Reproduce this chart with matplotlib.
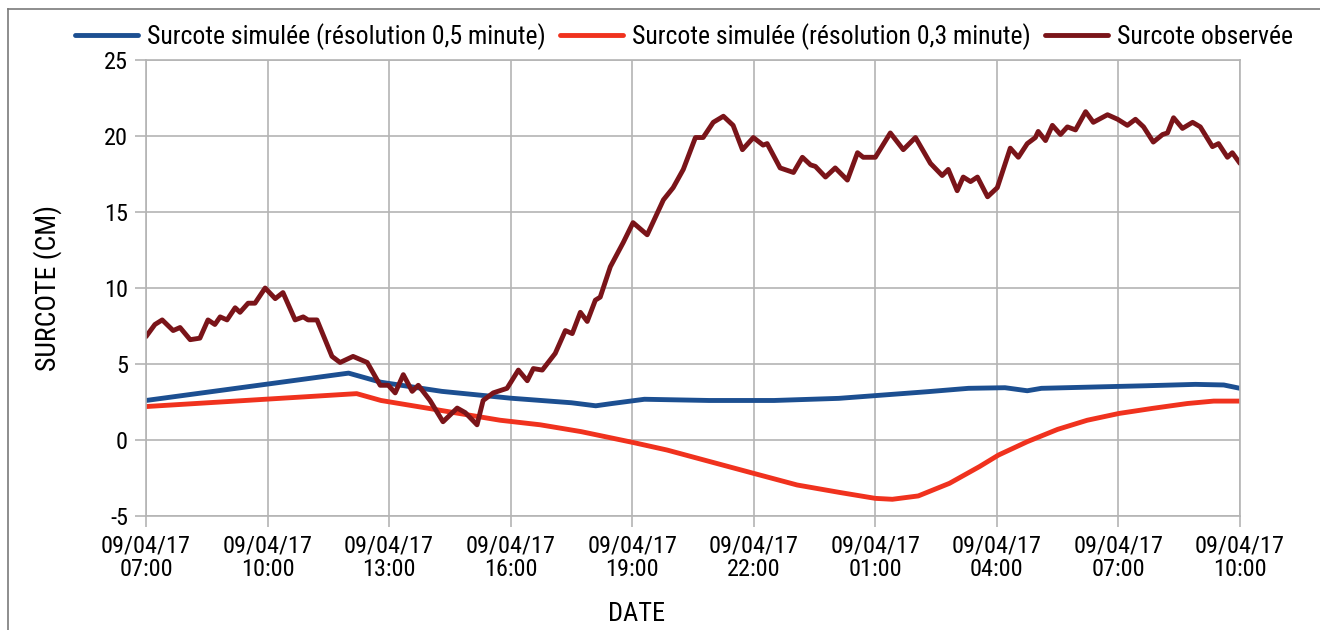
import matplotlib.pyplot as plt
from matplotlib.lines import Line2D

plt.rcParams['font.family'] = ['Roboto Condensed', 'Open Sans Condensed', 'DejaVu Sans']
plt.rcParams['font.stretch'] = 'condensed'
plt.rcParams['axes.unicode_minus'] = False

# hours elapsed since 09/04/17 07:00
TICK_HOURS = [0, 3, 6, 9, 12, 15, 18, 21, 24, 27]
TICK_LABELS = ['09/04/17\n07:00', '09/04/17\n10:00', '09/04/17\n13:00', '09/04/17\n16:00',
               '09/04/17\n19:00', '09/04/17\n22:00', '09/04/17\n01:00', '09/04/17\n04:00',
               '09/04/17\n07:00', '09/04/17\n10:00']

# simulated surge, 0.5 minute resolution
sim05_h = [0.0, 5.0, 5.8, 7.3, 9.0, 10.5, 11.1, 11.5, 12.3, 13.9, 15.5, 17.1, 18.2,
           19.3, 20.3, 21.2, 21.75, 22.1, 23.6, 24.7, 25.9, 26.6, 27.0]
sim05_v = [2.6, 4.4, 3.8, 3.2, 2.75, 2.45, 2.25, 2.4, 2.68, 2.6, 2.6, 2.74, 2.96,
           3.18, 3.4, 3.44, 3.24, 3.4, 3.5, 3.57, 3.66, 3.62, 3.4]

# simulated surge, 0.3 minute resolution
sim03_h = [0.0, 5.2, 5.8, 8.74, 9.73, 10.74, 12.05, 12.86, 13.93, 14.99, 16.07, 17.14,
           18.0, 18.42, 19.06, 19.83, 20.57, 21.04, 21.75, 22.5, 23.23, 24.02, 24.84,
           25.7, 26.35, 27.0]
sim03_v = [2.2, 3.05, 2.6, 1.3, 1.0, 0.55, -0.18, -0.66, -1.43, -2.19, -2.96, -3.46,
           -3.84, -3.9, -3.68, -2.85, -1.75, -0.99, -0.11, 0.7, 1.3, 1.75, 2.08,
           2.4, 2.56, 2.56]

# observed surge
obs_h = [0.00, 0.22, 0.40, 0.67, 0.84, 1.09, 1.33, 1.53, 1.70, 1.83, 2.00, 2.20, 2.32,
         2.52, 2.69, 2.94, 3.19, 3.38, 3.68, 3.88, 4.00, 4.22, 4.59, 4.79, 5.11, 5.46,
         5.78, 5.98, 6.15, 6.35, 6.57, 6.72, 7.01, 7.33, 7.68, 7.88, 8.17, 8.32, 8.57,
         8.91, 9.19, 9.41, 9.56, 9.78, 10.10, 10.35, 10.52, 10.72, 10.89, 11.09, 11.21,
         11.46, 11.78, 12.02, 12.37, 12.77, 13.01, 13.26, 13.56, 13.75, 14.00, 14.25,
         14.49, 14.72, 14.99, 15.23, 15.33, 15.65, 15.98, 16.20, 16.40, 16.52, 16.77,
         17.01, 17.31, 17.56, 17.70, 18.00, 18.37, 18.69, 18.99, 19.36, 19.65, 19.80,
         20.02, 20.17, 20.35, 20.52, 20.77, 21.01, 21.33, 21.53, 21.75, 21.95, 22.02,
         22.20, 22.37, 22.57, 22.74, 22.94, 23.19, 23.38, 23.73, 23.98, 24.22, 24.42,
         24.62, 24.86, 25.09, 25.21, 25.36, 25.58, 25.83, 26.02, 26.32, 26.47, 26.69,
         26.81, 27.00]
obs_v = [6.8, 7.6, 7.9, 7.2, 7.4, 6.6, 6.7, 7.9, 7.6, 8.1, 7.9, 8.7, 8.4,
         9.0, 9.0, 10.0, 9.3, 9.7, 7.9, 8.1, 7.9, 7.9, 5.5, 5.1, 5.5, 5.1,
         3.6, 3.6, 3.1, 4.3, 3.2, 3.6, 2.6, 1.2, 2.1, 1.8, 1.0, 2.6, 3.1,
         3.4, 4.6, 3.9, 4.7, 4.6, 5.7, 7.2, 7.0, 8.4, 7.8, 9.2, 9.4,
         11.4, 13.0, 14.3, 13.5, 15.8, 16.6, 17.8, 19.9, 19.9, 20.9, 21.3,
         20.7, 19.1, 19.9, 19.4, 19.5, 17.9, 17.6, 18.6, 18.1, 18.0, 17.3,
         17.9, 17.1, 18.9, 18.6, 18.6, 20.2, 19.1, 19.9, 18.2, 17.4, 17.8,
         16.4, 17.3, 17.0, 17.3, 16.0, 16.6, 19.2, 18.6, 19.5, 19.9, 20.3,
         19.7, 20.7, 20.1, 20.6, 20.4, 21.6, 20.9, 21.4, 21.1, 20.7, 21.1,
         20.6, 19.6, 20.1, 20.2, 21.2, 20.5, 20.9, 20.6, 19.3, 19.5, 18.6,
         18.9, 18.2]

BLUE = '#1c4f91'
RED = '#f0321e'
DARK_RED = '#7a1419'
GRID = '#b4b4b4'


fig = plt.figure(figsize=(13.2, 6.3), dpi=100)
ax = fig.add_axes([146 / 1320, 1 - 516 / 630, 1094 / 1320, 456 / 630])

ax.plot(sim05_h, sim05_v, color=BLUE, lw=3.5, label='Surcote simulée (résolution 0,5 minute)',
        solid_joinstyle='round', solid_capstyle='round')
ax.plot(sim03_h, sim03_v, color=RED, lw=3.5, label='Surcote simulée (résolution 0,3 minute)',
        solid_joinstyle='round', solid_capstyle='round')
ax.plot(obs_h, obs_v, color=DARK_RED, lw=3.5, label='Surcote observée',
        solid_joinstyle='round', solid_capstyle='round')

ax.set_xlim(0, 27)
ax.set_ylim(-5, 25)
ax.set_xticks(TICK_HOURS)
ax.set_xticklabels(TICK_LABELS, fontsize=17.5, linespacing=1.05)
ax.set_yticks(range(-5, 26, 5))
ax.tick_params(axis='y', labelsize=17.5, length=8, width=1.2, color=GRID, pad=5)
ax.tick_params(axis='x', length=8, width=1.2, color=GRID, pad=5)
ax.grid(True, color=GRID, lw=1.2)
ax.set_axisbelow(True)
for s in ax.spines.values():
    s.set_color(GRID)
    s.set_linewidth(1.2)

ax.set_ylabel('SURCOTE (CM)', fontsize=20)
ax.yaxis.set_label_coords((62 - 146) / 1094, 0.5)
fig.text(637 / 1320, 1 - 614 / 630, 'DATE', fontsize=19, ha='center', va='center')

fig.legend(loc='center', bbox_to_anchor=(684 / 1320, 1 - 37 / 630), ncol=3, frameon=False,
           fontsize=18.5, handlelength=2.45, handletextpad=0.35, columnspacing=0.55)

# frame around the figure (only top and left visible)
fig.add_artist(Line2D([8 / 1320, 1], [1 - 9 / 630, 1 - 9 / 630], color='#7a7a7a', lw=1.2,
                      transform=fig.transFigure))
fig.add_artist(Line2D([8 / 1320, 8 / 1320], [0, 1 - 9 / 630], color='#7a7a7a', lw=1.2,
                      transform=fig.transFigure))

fig.savefig('out.png', dpi=100)
